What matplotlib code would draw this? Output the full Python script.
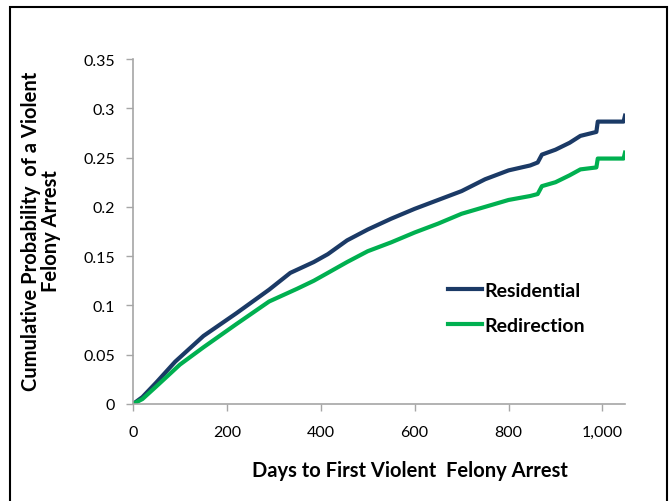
import matplotlib.pyplot as plt
import numpy as np
from matplotlib.patches import Rectangle
from matplotlib.ticker import FuncFormatter

plt.rc('font', family=['Lato', 'DejaVu Sans'], size=12)

# values
res_days = [0, 20, 50, 90, 150, 220, 290, 335, 385, 415, 456, 500, 550, 600,
            650, 700, 750, 800, 846, 862, 871, 900, 930, 953, 987, 990, 1045, 1048]
res_prob = [0, 0.007, 0.022, 0.043, 0.069, 0.092, 0.116, 0.133, 0.144, 0.152,
            0.166, 0.177, 0.188, 0.198, 0.207, 0.216, 0.228, 0.237, 0.242, 0.245,
            0.253, 0.258, 0.265, 0.272, 0.276, 0.2865, 0.2865, 0.2925]

red_days = [0, 20, 50, 100, 150, 220, 290, 350, 385, 415, 456, 500, 550, 600,
            650, 700, 750, 800, 846, 862, 871, 900, 930, 953, 987, 990, 1045, 1048]
red_prob = [0, 0.005, 0.018, 0.040, 0.0575, 0.081, 0.104, 0.117, 0.125, 0.133,
            0.144, 0.155, 0.164, 0.174, 0.183, 0.193, 0.200, 0.207, 0.211, 0.213,
            0.221, 0.225, 0.232, 0.238, 0.240, 0.249, 0.249, 0.255]

fig = plt.figure(figsize=(6.72, 5.02), dpi=100)
ax = fig.add_axes([133/672, 1-405/502, 492/672, 345/502])

# outer frame
fig.patches.append(Rectangle((10/672, -0.05), 657/672, 1.05 - 8/502,
                             transform=fig.transFigure, fill=False,
                             edgecolor='black', linewidth=1.5))

ax.plot(res_days, res_prob, '-', color='#1B3A66', lw=3, label='Residential',
        solid_joinstyle='round')
ax.plot(red_days, red_prob, '-', color='#00B050', lw=3, label='Redirection',
        solid_joinstyle='round')

ax.set_xlim(0, 1048)
ax.set_ylim(0, 0.35)
ax.set_xticks(np.arange(0, 1001, 200))
ax.set_yticks(np.arange(0, 0.351, 0.05))
ax.xaxis.set_major_formatter(FuncFormatter(lambda v, p: '{:,.0f}'.format(v)))
ax.yaxis.set_major_formatter(FuncFormatter(lambda v, p: '{:g}'.format(round(v, 2))))

for s in ['top', 'right']:
    ax.spines[s].set_visible(False)
for s in ['left', 'bottom']:
    ax.spines[s].set_color('#A6A6A6')
    ax.spines[s].set_linewidth(1.2)
ax.tick_params(direction='out', length=5, color='#A6A6A6', width=1, labelsize=11.5)
ax.tick_params(axis='x', pad=10)
ax.tick_params(axis='y', pad=8)

ax.set_xlabel('Days to First Violent  Felony Arrest', fontsize=14.5,
              fontweight='bold')
ax.xaxis.set_label_coords((410 - 133) / 492, -(461 - 405) / 345)
ax.set_ylabel('Cumulative Probability  of a Violent\nFelony Arrest', fontsize=14.5,
              fontweight='bold', linespacing=1.0)
ax.yaxis.set_label_coords(-(133 - 61) / 492, (405 - 231) / 345)

ax.legend(loc='upper left', bbox_to_anchor=(0.605, 0.405), frameon=False,
          prop={'weight': 'bold', 'size': 14}, handlelength=1.75,
          handletextpad=0.1, labelspacing=0.95)

plt.savefig('out.png', dpi=100)
